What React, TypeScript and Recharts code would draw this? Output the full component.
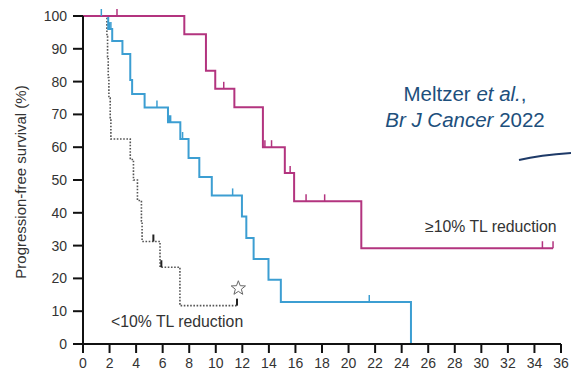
import { ComposedChart, Line, Scatter, XAxis, YAxis, Customized } from 'recharts'

// >=10% TL reduction (magenta)
const highTimes = [0, 7.63, 9.26, 9.96, 11.4, 13.55, 15.2, 15.9, 20.96, 35.4]
const highSurv = [100, 94.4, 83.3, 77.8, 72.2, 60.0, 52.1, 43.5, 29.2, 29.2]
const highCensorT = [2.56, 10.6, 13.7, 14.2, 15.6, 16.8, 18.2, 34.6, 35.4]
const highCensorS = [100, 77.8, 60.0, 60.0, 52.1, 43.5, 43.5, 29.2, 29.2]

// middle group (blue)
const midTimes = [0, 1.9, 2.2, 2.97, 3.56, 3.7, 4.64, 6.4, 7.33, 7.95, 8.76, 9.7, 11.97, 12.3, 12.85, 13.97, 14.9, 24.7]
const midSurv = [100, 96.0, 92.4, 88.4, 80.5, 76.2, 72.1, 67.6, 62.5, 56.7, 50.9, 45.3, 38.9, 32.3, 25.9, 19.6, 12.8, 0]
const midCensorT = [1.38, 2.0, 2.1, 5.57, 6.5, 6.6, 7.5, 11.27, 21.56]
const midCensorS = [100, 96.0, 96.0, 72.1, 67.6, 67.6, 62.5, 45.3, 12.8]

// <10% TL reduction (grey dotted)
const lowTimes = [0, 1.8, 1.85, 1.9, 1.95, 2.05, 2.1, 3.56, 3.8, 4.1, 4.4, 4.45, 5.8, 7.3, 11.6]
const lowSurv = [100, 93.75, 87.5, 81.25, 75, 68.75, 62.5, 56.25, 50, 43.75, 37.5, 31.25, 23.4, 11.7, 11.7]
const lowCensorT = [5.3, 5.9, 11.6]
const lowCensorS = [31.25, 23.4, 11.7]

const starT = [11.7]
const starS = [17]

const xTicks = [0, 2, 4, 6, 8, 10, 12, 14, 16, 18, 20, 22, 24, 26, 28, 30, 32, 34, 36]
const yTicks = [0, 10, 20, 30, 40, 50, 60, 70, 80, 90, 100]

const zip = (t: number[], s: number[]) => t.map((x, i) => ({ t: x, s: s[i] }))

const MAGENTA = '#b3347f'
const BLUE = '#3c9ed2'
const GREY = '#555'
const FONT = 'Liberation Sans, Arial, sans-serif'

const censorShape = (color: string, w = 1.5) => (p: any) => (
  <line x1={p.cx} y1={p.cy} x2={p.cx} y2={p.cy - 7} stroke={color} strokeWidth={w} />
)

const starShape = (p: any) => {
  const r = 7.5
  const pts: string[] = []
  for (let i = 0; i < 10; i++) {
    const rad = i % 2 === 0 ? r : r * 0.42
    const a = -Math.PI / 2 + (i * Math.PI) / 5
    pts.push(`${p.cx + rad * Math.cos(a)},${p.cy + rad * Math.sin(a)}`)
  }
  return <polygon points={pts.join(' ')} fill="none" stroke="#666" strokeWidth={1} />
}

const tickStyle = { fontSize: 14, fill: '#333', fontFamily: FONT }

export default function App() {
  return (
    <div style={{ position: 'absolute', left: 0, top: 0, background: '#fff' }}>
      <ComposedChart
        width={571}
        height={376}
        margin={{ top: 16, right: 10, bottom: 0, left: 23 }}
      >
        <XAxis
          type="number"
          dataKey="t"
          domain={[0, 36]}
          ticks={xTicks}
          interval={0}
          height={32}
          tick={tickStyle}
          tickSize={9}
          tickMargin={5}
          axisLine={{ stroke: '#111', strokeWidth: 2 }}
          tickLine={{ stroke: '#111', strokeWidth: 2 }}
          allowDuplicatedCategory={false}
        />
        <YAxis
          type="number"
          dataKey="s"
          domain={[0, 100]}
          ticks={yTicks}
          interval={0}
          width={60}
          tick={tickStyle}
          tickSize={10}
          tickMargin={6}
          axisLine={{ stroke: '#111', strokeWidth: 2 }}
          tickLine={{ stroke: '#111', strokeWidth: 2 }}
        />
        <Line data={zip(lowTimes, lowSurv)} dataKey="s" type="stepAfter" stroke={GREY} strokeWidth={1.6} strokeDasharray="1.6 1.6" dot={false} isAnimationActive={false} />
        <Line data={zip(midTimes, midSurv)} dataKey="s" type="stepAfter" stroke={BLUE} strokeWidth={2} dot={false} isAnimationActive={false} />
        <Line data={zip(highTimes, highSurv)} dataKey="s" type="stepAfter" stroke={MAGENTA} strokeWidth={2} dot={false} isAnimationActive={false} />
        <Scatter data={zip(highCensorT, highCensorS)} dataKey="s" shape={censorShape(MAGENTA)} isAnimationActive={false} />
        <Scatter data={zip(midCensorT, midCensorS)} dataKey="s" shape={censorShape(BLUE)} isAnimationActive={false} />
        <Scatter data={zip(lowCensorT, lowCensorS)} dataKey="s" shape={censorShape('#222', 2)} isAnimationActive={false} />
        <Scatter data={zip(starT, starS)} dataKey="s" shape={starShape} isAnimationActive={false} />
        <Customized
          component={() => (
            <g fontFamily={FONT}>
              <text x={20} y={182} fontSize={15} fill="#333" textAnchor="middle" dominantBaseline="central" transform="rotate(-90 20 182)">
                Progression-free survival (%)
              </text>
              <text x={425} y={232} fontSize={15.8} fill="#333">≥10% TL reduction</text>
              <text x={111} y={327} fontSize={15.8} fill="#333">&lt;10% TL reduction</text>
              <text x={465} y={101} fontSize={20.5} fill="#1d4f7c" textAnchor="middle">
                Meltzer <tspan fontStyle="italic">et al.</tspan>,
              </text>
              <text x={465} y={127} fontSize={20.5} fill="#1d4f7c" textAnchor="middle">
                <tspan fontStyle="italic">Br J Cancer</tspan> 2022
              </text>
              <path d="M519,160 Q540,155 571,153" fill="none" stroke="#1e3a68" strokeWidth={2} />
            </g>
          )}
        />
      </ComposedChart>
    </div>
  )
}
